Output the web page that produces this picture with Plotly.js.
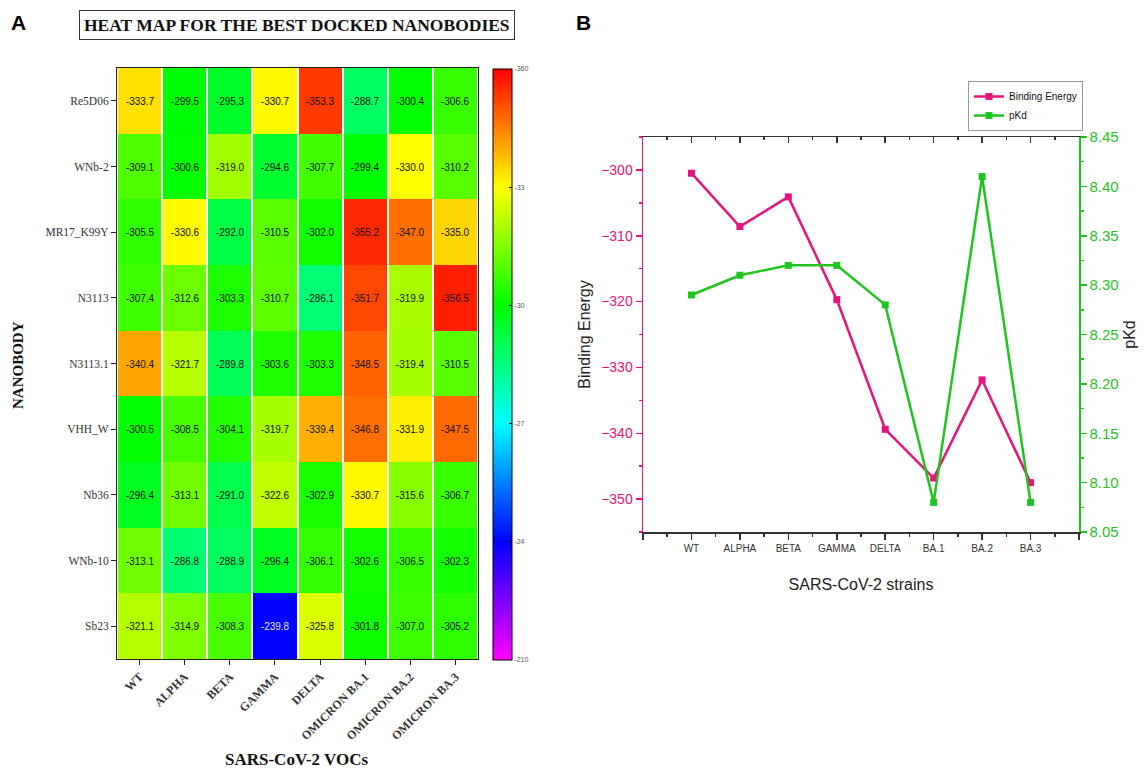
<!DOCTYPE html>
<html>
<head>
<meta charset="utf-8">
<script src="https://cdn.plot.ly/plotly-3.0.1.min.js"></script>
<style>html,body{margin:0;padding:0;background:#fff;}#chart{width:1146px;height:773px;}</style>
</head>
<body>
<div id="chart"></div>
<script>
// ---- Heat map data ----
const vocs = ['WT','ALPHA','BETA','GAMMA','DELTA','OMICRON BA.1','OMICRON BA.2','OMICRON BA.3'];
const nanobodies = ['Re5D06','WNb-2','MR17_K99Y','N3113','N3113.1','VHH_W','Nb36','WNb-10','Sb23'];
const re5d06 = [-333.7,-299.5,-295.3,-330.7,-353.3,-288.7,-300.4,-306.6];
const wnb2   = [-309.1,-300.6,-319.0,-294.6,-307.7,-299.4,-330.0,-310.2];
const mr17   = [-305.5,-330.6,-292.0,-310.5,-302.0,-355.2,-347.0,-335.0];
const n3113  = [-307.4,-312.6,-303.3,-310.7,-286.1,-351.7,-319.9,-356.5];
const n31131 = [-340.4,-321.7,-289.8,-303.6,-303.3,-348.5,-319.4,-310.5];
const vhhw   = [-300.5,-308.5,-304.1,-319.7,-339.4,-346.8,-331.9,-347.5];
const nb36   = [-296.4,-313.1,-291.0,-322.6,-302.9,-330.7,-315.6,-306.7];
const wnb10  = [-313.1,-286.8,-288.9,-296.4,-306.1,-302.6,-306.5,-302.3];
const sb23   = [-321.1,-314.9,-308.3,-239.8,-325.8,-301.8,-307.0,-305.2];
const cbTickVals = [-360,-330,-300,-270,-240,-210];
const cbTickText = ['-360','-33','-30','-27','-24','-210'];

// ---- Line chart data ----
const strains = ['WT','ALPHA','BETA','GAMMA','DELTA','BA.1','BA.2','BA.3'];
const bindingEnergy = [-300.5,-308.6,-304.1,-319.7,-339.4,-346.8,-331.9,-347.5];
const pKd = [8.29,8.31,8.32,8.32,8.28,8.08,8.41,8.08];

const W = 1146, H = 773;
const px = v => v / W;
const py = v => 1 - v / H;

const rows = [re5d06,wnb2,mr17,n3113,n31131,vhhw,nb36,wnb10,sb23];
const zPlot = rows.map(r => r.map(v => -v));
const txt = rows.map(r => r.map(v => v > -260
  ? '<span style="color:#e8e8ff">' + v.toFixed(1) + '</span>' : v.toFixed(1)));

const PINK = '#e5157b', GREEN = '#1fc41f';
const serif = 'Liberation Serif, Times New Roman, serif';
const sans = 'Liberation Sans, Arial, sans-serif';

const heat = {
  type: 'heatmap', x: vocs, y: nanobodies, z: zPlot, text: txt,
  texttemplate: '%{text}', textfont: {size: 10, color: '#111', family: sans},
  xaxis: 'x', yaxis: 'y', xgap: 2, ygap: 0, hoverinfo: 'skip',
  zmin: 210, zmax: 360,
  colorscale: [[0,'#ff00ff'],[0.2,'#0000ff'],[0.4,'#00ffff'],[0.6,'#00ff00'],[0.8,'#ffff00'],[1,'#ff0000']],
  colorbar: {
    x: px(493), xanchor: 'left', xref: 'paper', xpad: 0, ypad: 0,
    y: py(364.5), yanchor: 'middle', len: 591, lenmode: 'pixels', thickness: 19,
    outlinewidth: 1, outlinecolor: '#000',
    tickvals: cbTickVals.map(v => -v), ticktext: cbTickText,
    ticks: 'inside', ticklen: 3, tickcolor: '#000',
    tickfont: {size: 7, color: '#555', family: sans}
  }
};

const idx = strains.map((s, i) => i);
const be = {
  type: 'scatter', mode: 'lines+markers', name: 'Binding Energy',
  x: idx, y: bindingEnergy, xaxis: 'x2', yaxis: 'y2',
  line: {color: PINK, width: 2.5}, marker: {symbol: 'square', size: 7, color: PINK}
};
const pk = {
  type: 'scatter', mode: 'lines+markers', name: 'pKd',
  x: idx, y: pKd, xaxis: 'x2', yaxis: 'y3',
  line: {color: GREEN, width: 2.5}, marker: {symbol: 'square', size: 7, color: GREEN}
};
// invisible carrier so that the top (inward-tick) axis is drawn
const topCarrier = {
  type: 'scatter', mode: 'markers', x: idx, y: bindingEnergy, xaxis: 'x3', yaxis: 'y2',
  marker: {color: 'rgba(0,0,0,0)', size: 1}, showlegend: false, hoverinfo: 'skip'
};

const xTickVals = [-1, ...idx, strains.length];
const xTickText = ['', ...strains, ''];
const xMinorVals = xTickVals.slice(0, -1).map(v => v + 0.5);

const ann = (text, x, y, font, extra) => Object.assign({text, x: px(x), y: py(y), xref: 'paper', yref: 'paper',
  xanchor: 'center', yanchor: 'middle', showarrow: false, font}, extra || {});

const layout = {
  width: W, height: H, margin: {l: 0, r: 0, t: 0, b: 0},
  paper_bgcolor: '#fff', plot_bgcolor: 'rgba(0,0,0,0)',
  showlegend: true,
  legend: {x: px(968), y: py(81), xanchor: 'left', yanchor: 'top',
    bordercolor: '#999', borderwidth: 1, bgcolor: '#fff',
    font: {size: 10, family: sans, color: '#111'}, tracegroupgap: 0,
    itemwidth: 30},
  xaxis: {domain: [px(117), px(478)], anchor: 'y', type: 'category',
    showline: true, linecolor: '#222', linewidth: 1, mirror: true,
    ticks: 'outside', ticklen: 5, tickcolor: '#222', tickangle: -45,
    tickfont: {family: serif, size: 12, color: '#333', weight: 'bold'}, showgrid: false, zeroline: false},
  yaxis: {domain: [py(659), py(68)], anchor: 'x', type: 'category', autorange: 'reversed',
    showline: true, linecolor: '#222', linewidth: 1, mirror: true,
    ticks: 'outside', ticklen: 5, tickcolor: '#222',
    tickfont: {family: serif, size: 11.5, color: '#333'}, showgrid: false, zeroline: false},
  xaxis2: {domain: [px(643), px(1079)], anchor: 'y2', range: [-1, strains.length],
    tickmode: 'array', tickvals: xTickVals, ticktext: xTickText,
    ticks: 'outside', ticklen: 6, tickwidth: 1.5, tickcolor: '#333',
    minor: {tickmode: 'array', tickvals: xMinorVals, ticks: 'outside', ticklen: 3, tickwidth: 1.5, tickcolor: '#333'},
    showline: true, mirror: true, linecolor: '#333', linewidth: 1.5, showgrid: false, zeroline: false,
    tickfont: {family: sans, size: 10, color: '#333'},
    title: {text: 'SARS-CoV-2 strains', font: {family: sans, size: 16, color: '#222'}, standoff: 26}},
  xaxis3: {domain: [px(643), px(1079)], anchor: 'y2', side: 'top', range: [-1, strains.length],
    tickmode: 'array', tickvals: xTickVals, ticktext: xTickText, showticklabels: false,
    ticks: 'inside', ticklen: 6, tickwidth: 1.5, tickcolor: '#333',
    minor: {tickmode: 'array', tickvals: xMinorVals, ticks: 'inside', ticklen: 3, tickwidth: 1.5, tickcolor: '#333'},
    showline: true, linecolor: '#333', linewidth: 1.5, showgrid: false, zeroline: false},
  yaxis2: {domain: [py(532), py(137)], anchor: 'x2', range: [-355, -295],
    tickvals: [-350,-340,-330,-320,-310,-300], ticks: 'outside', ticklen: 6, tickwidth: 1.5, tickcolor: PINK,
    minor: {dtick: 5, ticks: 'outside', ticklen: 3, tickwidth: 1.5, tickcolor: PINK},
    showline: true, linecolor: PINK, linewidth: 1.5, showgrid: false, zeroline: false,
    tickfont: {family: sans, size: 14, color: PINK},
    title: {text: 'Binding Energy', font: {family: sans, size: 16, color: '#222'}, standoff: 6}},
  yaxis3: {domain: [py(532), py(137)], anchor: 'x2', overlaying: 'y2', side: 'right', range: [8.05, 8.45],
    tickvals: [8.05,8.10,8.15,8.20,8.25,8.30,8.35,8.40,8.45], tickformat: '.2f',
    ticks: 'outside', ticklen: 6, tickwidth: 1.5, tickcolor: GREEN,
    minor: {dtick: 0.025, ticks: 'outside', ticklen: 3, tickwidth: 1.5, tickcolor: GREEN},
    showline: true, linecolor: GREEN, linewidth: 1.5, showgrid: false, zeroline: false,
    tickfont: {family: sans, size: 15, color: GREEN},
    title: {text: 'pKd', font: {family: sans, size: 16, color: '#222'}, standoff: 6}},
  annotations: [
    ann('<b>A</b>', 18, 22, {family: sans, size: 21, color: '#000'}),
    ann('<b>B</b>', 583, 22, {family: sans, size: 21, color: '#000'}),
    ann('<b>HEAT MAP FOR THE BEST DOCKED NANOBODIES</b>', 296.5, 25, {family: serif, size: 17.5, color: '#111'},
      {bordercolor: '#333', borderwidth: 1, borderpad: 4, bgcolor: '#fff'}),
    ann('<b>NANOBODY</b>', 18, 365, {family: serif, size: 15, color: '#111'}, {textangle: -90}),
    ann('<b>SARS-CoV-2 VOCs</b>', 296, 759, {family: serif, size: 17, color: '#111'})
  ]
};

Plotly.newPlot('chart', [heat, be, pk, topCarrier], layout, {displayModeBar: false, staticPlot: true});
</script>
</body>
</html>
